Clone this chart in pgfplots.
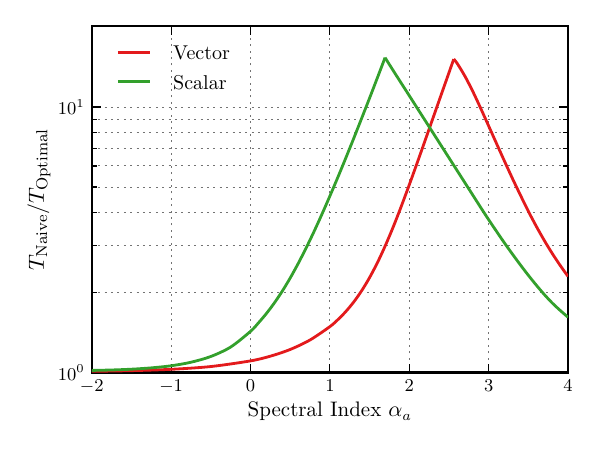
\documentclass[border=0pt]{standalone}
\usepackage{pgfplots}
\pgfplotsset{compat=1.18}
\definecolor{cred}{HTML}{E31A1C}
\definecolor{cgreen}{HTML}{33A02C}
\begin{document}
\begin{tikzpicture}
\begin{axis}[
  at={(0,0)}, anchor=south west,
  scale only axis, width=238.2pt, height=173.3pt,
  xmin=-2, xmax=4, ymin=1, ymax=20.2, ymode=log,
  xtick={-2,-1,0,1,2,3,4},
  ytick={1,10},
  minor ytick={2,3,4,5,6,7,8,9},
  grid=both,
  major grid style={black!55, line width=0.45pt, dash pattern=on 1pt off 2.2pt},
  minor grid style={black!55, line width=0.45pt, dash pattern=on 1pt off 2.2pt},
  axis line style={line width=1.2pt},
  major tick length=4.5pt, minor tick length=2.5pt,
  every tick/.style={black, line width=0.6pt},
  tick align=inside,
  ticklabel style={font=\fontsize{8.8}{10}\selectfont},
  xlabel={Spectral Index $\alpha_a$},
  ylabel={$T_{\mathrm{Naive}}/T_{\mathrm{Optimal}}$},
  xlabel style={font=\fontsize{10.5}{12}\selectfont, at={([yshift=-19.5pt]axis description cs:0.5,0)}, anchor=center},
  ylabel style={font=\fontsize{11}{13}\selectfont, at={([xshift=-26.4pt]axis description cs:0,0.5)}, anchor=center},
  legend style={draw=none, fill=none, inner sep=0pt,
    nodes={inner sep=0pt, text height=7.2pt, text depth=0pt},
    at={(axis description cs:0.051,0.9455)}, anchor=north west,
    font=\fontsize{10}{12}\selectfont, row sep=7.5pt, column sep=11pt},
  legend cell align=left,
  legend image code/.code={\draw[#1, line width=1.4pt] (0pt,0pt) -- (16pt,0pt);},
]
\addplot[cred, line width=1.4pt, smooth] coordinates {
(-2.0,1.010) (-1.5,1.016) (-1.0,1.028) (-0.5,1.053) (0.0,1.106) (0.25,1.152)
(0.5,1.221) (0.75,1.326) (1.0,1.489) (1.1,1.581) (1.2,1.696) (1.3,1.843)
(1.4,2.032) (1.5,2.278) (1.6,2.597) (1.7,3.013) (1.8,3.548) (1.9,4.232)
(2.0,5.093) (2.1,6.166) (2.2,7.490) (2.3,9.110) (2.4,11.08) (2.5,13.47) (2.56,15.15)
};
\addlegendentry{Vector}
\addplot[cred, line width=1.4pt, smooth, forget plot] coordinates {
(2.56,15.15) (2.6,14.66) (2.7,13.09) (2.8,11.46) (2.9,9.89)
(3.0,8.49) (3.1,7.28) (3.2,6.25) (3.3,5.38) (3.4,4.66) (3.5,4.05) (3.6,3.556)
(3.7,3.148) (3.8,2.812) (3.9,2.535) (4.0,2.301)
};
\addplot[cgreen, line width=1.4pt, smooth] coordinates {
(-2.0,1.018) (-1.75,1.022) (-1.5,1.029) (-1.25,1.041) (-1.0,1.060) (-0.75,1.093)
(-0.5,1.149) (-0.25,1.247) (0.0,1.429) (0.1,1.538) (0.2,1.668) (0.3,1.828)
(0.4,2.025) (0.5,2.270) (0.6,2.572) (0.7,2.943) (0.8,3.396) (0.9,3.949)
(1.0,4.622) (1.1,5.436) (1.2,6.424) (1.3,7.621) (1.4,9.068) (1.5,10.81)
(1.6,12.93) (1.695,15.35)
};
\addlegendentry{Scalar}
\addplot[cgreen, line width=1.4pt, smooth, forget plot] coordinates {
(1.695,15.35) (1.8,13.69) (1.9,12.29) (2.0,11.04) (2.1,9.91) (2.2,8.899)
(2.3,7.990) (2.4,7.173) (2.5,6.440) (2.6,5.782) (2.7,5.192) (2.8,4.661)
(2.9,4.185) (3.0,3.765) (3.1,3.399) (3.2,3.074) (3.3,2.792) (3.4,2.543)
(3.5,2.324) (3.6,2.134) (3.7,1.969) (3.8,1.829) (3.9,1.715) (4.0,1.615)
};
\end{axis}
\pgfresetboundingbox
\path[use as bounding box] ([shift={(-45.9pt,-38.7pt)}]current axis.south west) rectangle ([shift={(16pt,13pt)}]current axis.north east);
\end{tikzpicture}
\end{document}
